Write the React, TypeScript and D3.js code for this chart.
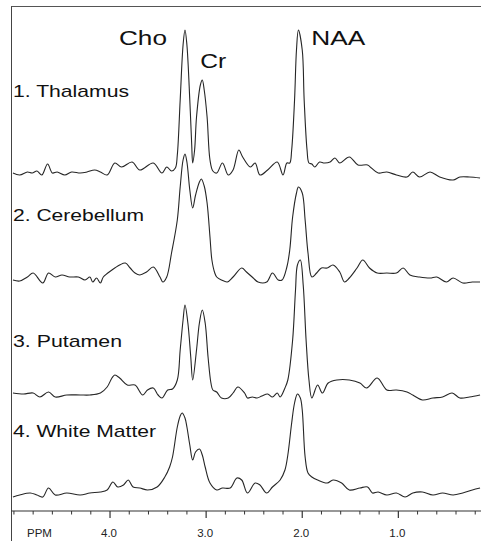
import React from "react";
import * as d3 from "d3";

// ---------- data (ppm, intensity above trace baseline) ----------
const regions = ["1. Thalamus", "2. Cerebellum", "3. Putamen", "4. White Matter"];
const baselines = [172, 280, 395, 493];

const thalamus: [number, number][] = [
  [5.01, -1], [4.94, -3], [4.86, 0], [4.81, -1], [4.76, 1], [4.71, -3], [4.65, 8], [4.6, -1],
  [4.55, 0], [4.47, -3], [4.4, 0], [4.31, -1], [4.24, 0], [4.16, 2], [4.1, 0], [4.03, -3],
  [3.95, 9], [3.88, 5], [3.77, 10], [3.69, 2], [3.55, 9], [3.46, -1], [3.41, 5], [3.36, 1],
  [3.32, 4], [3.3, 17], [3.27, 72], [3.24, 127], [3.22, 142], [3.2, 127], [3.17, 72], [3.15, 27],
  [3.14, 9], [3.12, 22], [3.1, 55], [3.06, 87], [3.04, 92], [3.02, 82], [2.99, 55], [2.96, 12],
  [2.93, 1], [2.89, -1], [2.83, 9], [2.77, -3], [2.72, 2], [2.66, 22], [2.62, 15], [2.54, 5],
  [2.49, 9], [2.44, -3], [2.36, 2], [2.26, 10], [2.2, -3], [2.16, 9], [2.13, 9], [2.11, 22],
  [2.08, 72], [2.06, 122], [2.04, 142], [2.0, 122], [1.98, 72], [1.95, 22], [1.93, 9], [1.9, 8],
  [1.87, 5], [1.82, 10], [1.77, 9], [1.71, 10], [1.66, 14], [1.61, 9], [1.51, 15], [1.42, 7],
  [1.32, 7], [1.28, 4], [1.21, -1], [1.12, 0], [1.02, -3], [0.91, -5], [0.85, 0], [0.78, -5],
  [0.67, 0], [0.57, -5], [0.43, -8], [0.36, -5], [0.26, -5], [0.15, -6],
];

const cerebellum: [number, number][] = [
  [5.01, 0], [4.94, -1], [4.86, 3], [4.8, 7], [4.7, -3], [4.64, 7], [4.57, 3], [4.5, 5],
  [4.42, 3], [4.33, 3], [4.26, 0], [4.21, 3], [4.18, -2], [4.14, 2], [4.1, -3], [4.07, 3],
  [3.98, 10], [3.9, 15], [3.84, 17], [3.79, 12], [3.74, 7], [3.69, 5], [3.62, 8], [3.55, 13],
  [3.48, 3], [3.45, -2], [3.41, 3], [3.36, 27], [3.3, 60], [3.27, 93], [3.24, 120], [3.22, 126],
  [3.2, 118], [3.17, 90], [3.14, 72], [3.11, 85], [3.07, 98], [3.05, 101], [3.02, 94], [2.99, 77],
  [2.96, 43], [2.94, 20], [2.91, 7], [2.89, 3], [2.84, 0], [2.78, -2], [2.72, 3], [2.63, 12],
  [2.58, 8], [2.51, 2], [2.46, -2], [2.37, -2], [2.31, 7], [2.25, 0], [2.21, 0], [2.16, 13],
  [2.13, 30], [2.1, 63], [2.06, 87], [2.04, 93], [2.0, 87], [1.97, 60], [1.94, 27], [1.9, 3],
  [1.85, 7], [1.8, 12], [1.74, 12], [1.68, 15], [1.61, 8], [1.56, -2], [1.51, 2], [1.43, 12],
  [1.37, 20], [1.3, 12], [1.22, 7], [1.12, 7], [1.02, 7], [0.95, 12], [0.88, 5], [0.78, 3],
  [0.67, 2], [0.6, 3], [0.5, -2], [0.43, 2], [0.33, -3], [0.23, -2], [0.15, -2],
];

const putamen: [number, number][] = [
  [5.01, 2], [4.9, 1], [4.8, 2], [4.73, -2], [4.64, 3], [4.57, -2], [4.45, 0], [4.31, 0],
  [4.21, 0], [4.1, 2], [4.03, 8], [3.98, 17], [3.95, 20], [3.9, 17], [3.82, 10], [3.74, 10],
  [3.66, 0], [3.61, 5], [3.55, 7], [3.5, 0], [3.46, -3], [3.4, 5], [3.35, 6], [3.3, 15],
  [3.27, 45], [3.24, 75], [3.22, 90], [3.19, 72], [3.16, 38], [3.14, 15], [3.1, 45], [3.07, 72],
  [3.04, 85], [3.01, 72], [2.98, 38], [2.95, 12], [2.93, 5], [2.89, 3], [2.84, -3], [2.77, -3],
  [2.72, 2], [2.67, 8], [2.6, 2], [2.57, -3], [2.52, -2], [2.47, -3], [2.42, -1], [2.36, 1],
  [2.31, -2], [2.26, 2], [2.23, -2], [2.18, 7], [2.15, 15], [2.1, 55], [2.07, 105], [2.05, 130],
  [2.02, 135], [1.99, 110], [1.96, 55], [1.93, 15], [1.9, -3], [1.84, 10], [1.79, 2], [1.73, 12],
  [1.64, 15], [1.51, 15], [1.4, 12], [1.33, 7], [1.22, 17], [1.12, 5], [1.02, 5], [0.91, 3],
  [0.85, 0], [0.75, -5], [0.64, -3], [0.54, -2], [0.44, 2], [0.36, -3], [0.26, -2], [0.15, 0],
];

const whiteMatter: [number, number][] = [
  [5.01, -4], [4.94, -2], [4.83, 0], [4.76, -2], [4.7, -4], [4.64, 5], [4.57, -2], [4.45, 0],
  [4.31, -2], [4.21, 0], [4.1, 1], [4.03, 3], [3.97, 11], [3.92, 6], [3.86, 8], [3.81, 13],
  [3.76, 6], [3.69, 5], [3.61, 3], [3.51, 6], [3.43, 16], [3.38, 26], [3.35, 36], [3.3, 66],
  [3.27, 77], [3.25, 80], [3.22, 75], [3.2, 66], [3.17, 48], [3.14, 33], [3.11, 41], [3.07, 44],
  [3.04, 38], [3.01, 26], [2.96, 10], [2.89, 3], [2.83, 5], [2.75, 5], [2.68, 15], [2.63, 13],
  [2.57, 0], [2.49, 10], [2.44, 8], [2.37, 0], [2.31, 6], [2.23, 13], [2.18, 23], [2.15, 38],
  [2.11, 70], [2.08, 90], [2.05, 99], [2.02, 95], [2.0, 83], [1.97, 36], [1.94, 20], [1.9, 16],
  [1.84, 13], [1.74, 10], [1.68, 13], [1.59, 10], [1.51, 3], [1.4, 5], [1.32, 6], [1.27, 0],
  [1.21, 1], [1.12, -2], [1.02, 0], [0.93, -4], [0.85, 0], [0.75, 1], [0.64, -2], [0.54, 0],
  [0.43, -2], [0.33, 0], [0.23, 3], [0.15, 5],
];

const spectra = [thalamus, cerebellum, putamen, whiteMatter];

const majorTicks = [4, 3, 2, 1];
const majorTickLabels = ["4.0", "3.0", "2.0", "1.0"];
const minorTicks = [5.0, 4.8, 4.6, 4.4, 4.2, 3.8, 3.6, 3.4, 3.2, 2.8, 2.6, 2.4, 2.2, 1.8, 1.6, 1.4, 1.2, 0.8, 0.6, 0.4, 0.2];

const peakNames = ["Cho", "Cr", "NAA"];
const peakPpm = [3.22, 3.04, 2.03];

// ---------- chart ----------
const W = 481;
const H = 541;
const FONT = "'Liberation Sans', Arial, Helvetica, sans-serif";

export default function App() {
  const x = d3.scaleLinear().domain([5.02, 0.14]).range([12, 481]);
  const y = d3.scaleLinear().domain([0, 100]).range([0, -100]);
  const line = d3
    .line<[number, number]>()
    .x((d) => x(d[0]))
    .y((d) => y(d[1]))
    .curve(d3.curveCatmullRom.alpha(0.5));

  const axisY = 511;
  const labelLen = [116, 131, 109, 143];
  const labelBase = [97, 221, 347, 437];

  return (
    <svg
      width={W}
      height={H}
      style={{ position: "fixed", left: 0, top: 0, background: "#fff" }}
      fontFamily={FONT}
    >
      <rect x={0} y={0} width={W} height={H} fill="#fff" />
      {/* frame */}
      <line x1={11.5} y1={6} x2={11.5} y2={H} stroke="#444" strokeWidth={1} />
      <line x1={11.5} y1={6.5} x2={W} y2={6.5} stroke="#555" strokeWidth={1} />

      {/* spectra */}
      {spectra.map((s, i) => (
        <g key={i} transform={`translate(0,${baselines[i]})`}>
          <path d={line(s) || ""} fill="none" stroke="#262626" strokeWidth={1.1} strokeLinejoin="round" />
        </g>
      ))}

      {/* region labels */}
      {regions.map((r, i) => (
        <text
          key={r}
          x={13}
          y={labelBase[i]}
          fontSize={17}
          fill="#111"
          textLength={labelLen[i]}
          lengthAdjust="spacingAndGlyphs"
        >
          {r}
        </text>
      ))}

      {/* peak labels */}
      <text x={x(peakPpm[0]) - 18} y={45} fontSize={21} textAnchor="end" fill="#111" textLength={48} lengthAdjust="spacingAndGlyphs">
        {peakNames[0]}
      </text>
      <text x={x(peakPpm[1]) - 2} y={68} fontSize={21} fill="#111" textLength={26} lengthAdjust="spacingAndGlyphs">
        {peakNames[1]}
      </text>
      <text x={x(peakPpm[2]) + 12} y={45} fontSize={21} fill="#111" textLength={54} lengthAdjust="spacingAndGlyphs">
        {peakNames[2]}
      </text>

      {/* x axis */}
      <line x1={11.5} y1={axisY} x2={W} y2={axisY} stroke="#333" strokeWidth={1.2} />
      {minorTicks.map((t) => (
        <line key={"m" + t} x1={x(t)} x2={x(t)} y1={axisY} y2={axisY + 3.5} stroke="#333" strokeWidth={1} />
      ))}
      {majorTicks.map((t, i) => (
        <g key={"M" + t}>
          <line x1={x(t)} x2={x(t)} y1={axisY} y2={axisY + 7} stroke="#333" strokeWidth={1.2} />
          <text x={x(t) - 1} y={537} fontSize={11.5} textAnchor="middle" fill="#222">
            {majorTickLabels[i]}
          </text>
        </g>
      ))}
      <text x={27} y={537} fontSize={11.5} fill="#222">
        PPM
      </text>
    </svg>
  );
}
